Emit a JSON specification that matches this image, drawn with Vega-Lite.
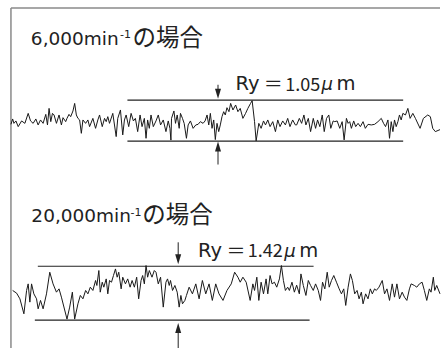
{
  "$schema": "https://vega.github.io/schema/vega-lite/v6.json",
  "width": 442,
  "height": 349,
  "autosize": {"type": "fit", "contains": "padding"},
  "padding": 0,
  "background": "white",
  "config": {"view": {"stroke": null}},
  "datasets": {
    "trace": [
      {"s":"a","x":11,"y":124.7},{"s":"a","x":12.7,"y":119.3},{"s":"a","x":14,"y":123.7},{"s":"a","x":16,"y":121.3},{"s":"a","x":18.3,"y":127},{"s":"a","x":21.7,"y":121.3},{"s":"a","x":25,"y":123.7},{"s":"a","x":28.3,"y":113.7},{"s":"a","x":30.7,"y":121.3},{"s":"a","x":33.3,"y":123.7},{"s":"a","x":36,"y":119.3},{"s":"a","x":38.3,"y":125.3},{"s":"a","x":40.7,"y":120.3},{"s":"a","x":43.3,"y":123.7},{"s":"a","x":46,"y":114.7},{"s":"a","x":47.7,"y":125.3},{"s":"a","x":49.3,"y":108.7},{"s":"a","x":51,"y":122},{"s":"a","x":52.7,"y":113.7},{"s":"a","x":54.3,"y":115.3},{"s":"a","x":56.7,"y":123.7},{"s":"a","x":59.3,"y":115.3},{"s":"a","x":61.7,"y":125.3},{"s":"a","x":63.3,"y":118},{"s":"a","x":66,"y":122},{"s":"a","x":67.3,"y":118.7},{"s":"a","x":69.3,"y":114.7},{"s":"a","x":71,"y":117},{"s":"a","x":73.3,"y":111.3},{"s":"a","x":75,"y":103.7},{"s":"a","x":76.7,"y":115.3},{"s":"a","x":78.3,"y":118.7},{"s":"a","x":80,"y":120.3},{"s":"a","x":81.7,"y":133.7},{"s":"a","x":83.3,"y":120.3},{"s":"a","x":86,"y":123.7},{"s":"a","x":88.3,"y":120.3},{"s":"a","x":90,"y":127},{"s":"a","x":93.3,"y":118.7},{"s":"a","x":96,"y":128.7},{"s":"a","x":98.3,"y":120.3},{"s":"a","x":100,"y":115.3},{"s":"a","x":102.7,"y":127},{"s":"a","x":105,"y":118.7},{"s":"a","x":106.7,"y":122},{"s":"a","x":108.3,"y":117},{"s":"a","x":110,"y":123.7},{"s":"a","x":113.3,"y":113.7},{"s":"a","x":116.7,"y":137},{"s":"a","x":118.3,"y":118.7},{"s":"a","x":121,"y":110.3},{"s":"a","x":123.3,"y":135.3},{"s":"a","x":125,"y":120.3},{"s":"a","x":126.7,"y":115.3},{"s":"a","x":129.3,"y":127},{"s":"a","x":131.7,"y":113.7},{"s":"a","x":134,"y":121.3},{"s":"a","x":136,"y":118.7},{"s":"a","x":138.3,"y":132},{"s":"a","x":140.7,"y":115.3},{"s":"a","x":142.7,"y":127},{"s":"a","x":145,"y":118.7},{"s":"a","x":146.7,"y":138.7},{"s":"a","x":148.3,"y":120.3},{"s":"a","x":150,"y":128.7},{"s":"a","x":151.7,"y":115.3},{"s":"a","x":154,"y":127},{"s":"a","x":156.7,"y":121.3},{"s":"a","x":159,"y":115.3},{"s":"a","x":161.3,"y":125.3},{"s":"a","x":164,"y":120.3},{"s":"a","x":166.7,"y":132},{"s":"a","x":169,"y":121.3},{"s":"a","x":170.7,"y":128.7},{"s":"a","x":171.7,"y":140.5},{"s":"a","x":172.3,"y":118.7},{"s":"a","x":174.7,"y":111.3},{"s":"a","x":176.3,"y":123.7},{"s":"a","x":178,"y":115.3},{"s":"a","x":180,"y":128.7},{"s":"a","x":181.3,"y":113.7},{"s":"a","x":183.3,"y":118.7},{"s":"a","x":185,"y":123.7},{"s":"a","x":187.3,"y":138.7},{"s":"a","x":189,"y":125.3},{"s":"a","x":191.3,"y":121.3},{"s":"a","x":194,"y":128.7},{"s":"a","x":196.7,"y":125.3},{"s":"a","x":199,"y":124.7},{"s":"a","x":201.3,"y":122},{"s":"a","x":204,"y":123.7},{"s":"a","x":206,"y":121.3},{"s":"a","x":208,"y":115.3},{"s":"a","x":209.7,"y":125.3},{"s":"a","x":211.3,"y":113.7},{"s":"a","x":213,"y":128.7},{"s":"a","x":214.7,"y":120.3},{"s":"a","x":216.3,"y":140},{"s":"a","x":218,"y":123.7},{"s":"a","x":219.7,"y":132},{"s":"a","x":221.3,"y":125.3},{"s":"a","x":223,"y":117},{"s":"a","x":224.7,"y":112},{"s":"a","x":226.3,"y":115.3},{"s":"a","x":228,"y":108},{"s":"a","x":230,"y":112},{"s":"a","x":231.7,"y":103.7},{"s":"a","x":234,"y":110.3},{"s":"a","x":236.7,"y":105.3},{"s":"a","x":239,"y":112},{"s":"a","x":241.3,"y":108.7},{"s":"a","x":244,"y":118.7},{"s":"a","x":246.7,"y":113.7},{"s":"a","x":249,"y":108.7},{"s":"a","x":251.7,"y":103.7},{"s":"a","x":253.3,"y":101},{"s":"a","x":255.7,"y":122},{"s":"a","x":257.3,"y":141.3},{"s":"a","x":260,"y":123.7},{"s":"a","x":262.3,"y":128.7},{"s":"a","x":264.7,"y":121.3},{"s":"a","x":266.7,"y":125.3},{"s":"a","x":269,"y":120.3},{"s":"a","x":271.3,"y":127},{"s":"a","x":274,"y":122},{"s":"a","x":276.7,"y":132},{"s":"a","x":279,"y":120.3},{"s":"a","x":281.3,"y":127},{"s":"a","x":284,"y":121.3},{"s":"a","x":286.7,"y":125.3},{"s":"a","x":289,"y":118.7},{"s":"a","x":291.3,"y":127},{"s":"a","x":294,"y":120.3},{"s":"a","x":296.7,"y":125.3},{"s":"a","x":298,"y":125.3},{"s":"a","x":300.7,"y":118.7},{"s":"a","x":303,"y":123.7},{"s":"a","x":305.3,"y":115.3},{"s":"a","x":307.3,"y":125.3},{"s":"a","x":309.7,"y":118.7},{"s":"a","x":312,"y":132},{"s":"a","x":314.7,"y":118.7},{"s":"a","x":317,"y":128.7},{"s":"a","x":319,"y":120.3},{"s":"a","x":321.3,"y":127},{"s":"a","x":323.7,"y":115.3},{"s":"a","x":325.7,"y":132},{"s":"a","x":328,"y":118.7},{"s":"a","x":330.3,"y":115.3},{"s":"a","x":332.3,"y":128.7},{"s":"a","x":334.7,"y":121.3},{"s":"a","x":336.3,"y":122},{"s":"a","x":338.7,"y":121.3},{"s":"a","x":341.3,"y":128.7},{"s":"a","x":343.7,"y":122},{"s":"a","x":345.7,"y":140.3},{"s":"a","x":348,"y":118.7},{"s":"a","x":349.7,"y":123.7},{"s":"a","x":351.3,"y":122},{"s":"a","x":353,"y":128.7},{"s":"a","x":355.3,"y":121.3},{"s":"a","x":357.3,"y":127},{"s":"a","x":359.7,"y":123.7},{"s":"a","x":362,"y":127},{"s":"a","x":364.7,"y":122},{"s":"a","x":367,"y":128.7},{"s":"a","x":369.7,"y":124.7},{"s":"a","x":373,"y":125.3},{"s":"a","x":376.3,"y":124.7},{"s":"a","x":379.7,"y":122},{"s":"a","x":383,"y":118.7},{"s":"a","x":385.3,"y":123.7},{"s":"a","x":387.3,"y":127},{"s":"a","x":389.7,"y":120.3},{"s":"a","x":391.3,"y":138.7},{"s":"a","x":393,"y":122},{"s":"a","x":394.7,"y":132},{"s":"a","x":396.3,"y":120.3},{"s":"a","x":398,"y":127},{"s":"a","x":399.7,"y":122},{"s":"a","x":401.3,"y":115.3},{"s":"a","x":403,"y":120.3},{"s":"a","x":404.7,"y":113.7},{"s":"a","x":407.3,"y":115.3},{"s":"a","x":409.7,"y":108.7},{"s":"a","x":412,"y":118.7},{"s":"a","x":414.7,"y":113.7},{"s":"a","x":417.3,"y":118.7},{"s":"a","x":422,"y":128.7},{"s":"a","x":425.3,"y":118.7},{"s":"a","x":429.7,"y":115.3},{"s":"a","x":432.3,"y":117},{"s":"a","x":434.7,"y":128.7},{"s":"a","x":437.3,"y":132},{"s":"a","x":442,"y":130},
      {"s":"b","x":12.7,"y":291.3},{"s":"b","x":16.7,"y":294},{"s":"b","x":20,"y":299.7},{"s":"b","x":24,"y":314.7},{"s":"b","x":26.7,"y":291.3},{"s":"b","x":28.3,"y":284.7},{"s":"b","x":30,"y":303},{"s":"b","x":31.7,"y":284.7},{"s":"b","x":34,"y":294.7},{"s":"b","x":36.7,"y":299.7},{"s":"b","x":38.3,"y":309.7},{"s":"b","x":40.7,"y":301.3},{"s":"b","x":43.3,"y":309.7},{"s":"b","x":46.7,"y":294.7},{"s":"b","x":50,"y":273},{"s":"b","x":53.3,"y":284.7},{"s":"b","x":56.7,"y":293},{"s":"b","x":59.3,"y":289.7},{"s":"b","x":61.7,"y":298},{"s":"b","x":67.3,"y":320},{"s":"b","x":70,"y":308},{"s":"b","x":72.7,"y":293},{"s":"b","x":75,"y":320},{"s":"b","x":78.3,"y":304.7},{"s":"b","x":80.7,"y":296.3},{"s":"b","x":83.3,"y":299.7},{"s":"b","x":86,"y":291.3},{"s":"b","x":88.3,"y":294.7},{"s":"b","x":90.7,"y":288},{"s":"b","x":93.3,"y":291.3},{"s":"b","x":96,"y":281.3},{"s":"b","x":97.3,"y":286.3},{"s":"b","x":99.3,"y":271.3},{"s":"b","x":100.7,"y":293},{"s":"b","x":102.7,"y":283},{"s":"b","x":104.3,"y":288},{"s":"b","x":106.7,"y":279.7},{"s":"b","x":108.3,"y":294.7},{"s":"b","x":110,"y":281.3},{"s":"b","x":112,"y":283},{"s":"b","x":114,"y":276.3},{"s":"b","x":116,"y":269.7},{"s":"b","x":117.7,"y":278},{"s":"b","x":119.3,"y":273},{"s":"b","x":121.7,"y":289.7},{"s":"b","x":123.3,"y":278},{"s":"b","x":126,"y":284.7},{"s":"b","x":128.3,"y":279.7},{"s":"b","x":130.7,"y":288},{"s":"b","x":132.7,"y":281.3},{"s":"b","x":135,"y":288},{"s":"b","x":137.3,"y":278},{"s":"b","x":139.3,"y":299.7},{"s":"b","x":141.7,"y":281.3},{"s":"b","x":143.3,"y":276.3},{"s":"b","x":145,"y":284.7},{"s":"b","x":146.7,"y":266.3},{"s":"b","x":148.3,"y":278},{"s":"b","x":150,"y":271.3},{"s":"b","x":152.7,"y":278},{"s":"b","x":155,"y":271.3},{"s":"b","x":156.7,"y":273},{"s":"b","x":159,"y":284.7},{"s":"b","x":161.3,"y":278},{"s":"b","x":164,"y":308},{"s":"b","x":166.7,"y":283},{"s":"b","x":168.3,"y":279.7},{"s":"b","x":170,"y":286.3},{"s":"b","x":171.3,"y":281.3},{"s":"b","x":173.3,"y":291.3},{"s":"b","x":175.7,"y":286.3},{"s":"b","x":178,"y":293},{"s":"b","x":180,"y":308},{"s":"b","x":181.7,"y":296.3},{"s":"b","x":183.3,"y":304.7},{"s":"b","x":185.7,"y":301.3},{"s":"b","x":187.3,"y":296.3},{"s":"b","x":190,"y":288},{"s":"b","x":193.3,"y":294.7},{"s":"b","x":196.7,"y":284.7},{"s":"b","x":200,"y":299.7},{"s":"b","x":203.3,"y":281.3},{"s":"b","x":206.7,"y":294.7},{"s":"b","x":210,"y":284.7},{"s":"b","x":213.3,"y":301.3},{"s":"b","x":216.7,"y":284.7},{"s":"b","x":220,"y":294.7},{"s":"b","x":224,"y":301.3},{"s":"b","x":228,"y":291.3},{"s":"b","x":232.3,"y":284.7},{"s":"b","x":235.7,"y":273},{"s":"b","x":239,"y":278},{"s":"b","x":241.3,"y":283},{"s":"b","x":244,"y":278},{"s":"b","x":247.3,"y":283},{"s":"b","x":251.3,"y":301.3},{"s":"b","x":254,"y":284.7},{"s":"b","x":255.7,"y":291.3},{"s":"b","x":258,"y":278},{"s":"b","x":260,"y":301.3},{"s":"b","x":262.3,"y":283},{"s":"b","x":264.7,"y":294.7},{"s":"b","x":267.3,"y":279.7},{"s":"b","x":269,"y":294.7},{"s":"b","x":271.3,"y":276.3},{"s":"b","x":273.3,"y":284.7},{"s":"b","x":275.7,"y":283},{"s":"b","x":278,"y":288},{"s":"b","x":280.7,"y":279.7},{"s":"b","x":282.7,"y":266.3},{"s":"b","x":284.7,"y":281.3},{"s":"b","x":286.7,"y":291.3},{"s":"b","x":289,"y":288},{"s":"b","x":290.7,"y":291.3},{"s":"b","x":293.3,"y":283},{"s":"b","x":295.7,"y":293},{"s":"b","x":298,"y":286},{"s":"b","x":300.7,"y":294.7},{"s":"b","x":302.3,"y":274.7},{"s":"b","x":304.7,"y":286.3},{"s":"b","x":307.3,"y":296.3},{"s":"b","x":309.7,"y":281.3},{"s":"b","x":312,"y":286.3},{"s":"b","x":314.7,"y":291.3},{"s":"b","x":317,"y":284.7},{"s":"b","x":319.7,"y":291.3},{"s":"b","x":322,"y":301.3},{"s":"b","x":324,"y":283},{"s":"b","x":326.3,"y":289.7},{"s":"b","x":328.7,"y":273},{"s":"b","x":330.7,"y":288},{"s":"b","x":333,"y":281.3},{"s":"b","x":335.3,"y":276.3},{"s":"b","x":338,"y":283},{"s":"b","x":340.7,"y":289.7},{"s":"b","x":343,"y":294.7},{"s":"b","x":345.3,"y":289.7},{"s":"b","x":347.3,"y":306.3},{"s":"b","x":349.7,"y":288},{"s":"b","x":352,"y":274.7},{"s":"b","x":354,"y":281.3},{"s":"b","x":356.3,"y":294.7},{"s":"b","x":358.7,"y":291.3},{"s":"b","x":360.7,"y":299.7},{"s":"b","x":363,"y":293},{"s":"b","x":364.7,"y":304.7},{"s":"b","x":367.3,"y":294.7},{"s":"b","x":369.7,"y":299.7},{"s":"b","x":372,"y":289.7},{"s":"b","x":374,"y":294.7},{"s":"b","x":376.3,"y":289.7},{"s":"b","x":378,"y":291.3},{"s":"b","x":380.7,"y":288},{"s":"b","x":384,"y":281.3},{"s":"b","x":386.3,"y":294.7},{"s":"b","x":388.7,"y":289.7},{"s":"b","x":391.3,"y":301.3},{"s":"b","x":394,"y":284.7},{"s":"b","x":396.3,"y":298},{"s":"b","x":398.7,"y":284.7},{"s":"b","x":401.3,"y":299.7},{"s":"b","x":404,"y":293},{"s":"b","x":406.3,"y":298},{"s":"b","x":408.7,"y":301.3},{"s":"b","x":411.3,"y":289.7},{"s":"b","x":413,"y":284.7},{"s":"b","x":416.3,"y":286.3},{"s":"b","x":418.7,"y":288},{"s":"b","x":421.3,"y":284.7},{"s":"b","x":424,"y":283},{"s":"b","x":426.3,"y":291.3},{"s":"b","x":428.7,"y":301.3},{"s":"b","x":431.3,"y":289.7},{"s":"b","x":433,"y":293},{"s":"b","x":435.3,"y":278},{"s":"b","x":436.7,"y":291.3},{"s":"b","x":438.7,"y":286.3},{"s":"b","x":442,"y":294.7}
    ],
    "hlines": [
      {"x":128,"x2":405,"y":100.5},
      {"x":128,"x2":405,"y":141.5},
      {"x":38,"x2":315,"y":267},
      {"x":35,"x2":311,"y":321}
    ],
    "frameV": [{"x":11,"y":8,"y2":349}],
    "frameH": [{"x":11,"x2":442,"y":8}],
    "shafts": [
      {"x":219,"y":85,"y2":91},
      {"x":219,"y":150,"y2":165},
      {"x":179,"y":243,"y2":256},
      {"x":179,"y":332,"y2":349}
    ],
    "headsDown": [{"x":219,"y":94},{"x":179,"y":260}],
    "headsUp": [{"x":219,"y":147},{"x":179,"y":329}],
    "texts": [
      {"k":"lat","label":"6,000min","x":31,"y":45},
      {"k":"sup","label":"-1","x":120.5,"y":38.5},
      {"k":"cjk","label":"の場合","x":133,"y":45},
      {"k":"lat","label":"20,000min","x":31.5,"y":222.3},
      {"k":"sup","label":"-1","x":131,"y":216.5},
      {"k":"cjk","label":"の場合","x":143,"y":222.3},
      {"k":"ry","label":"Ry","x":236.5,"y":90.7},
      {"k":"eq","label":"＝","x":265,"y":90.7},
      {"k":"num","label":"1.05","x":286.5,"y":90.7},
      {"k":"mu","label":"μ","x":323,"y":90.7},
      {"k":"ry","label":"m","x":338,"y":90.7},
      {"k":"ry","label":"Ry","x":199,"y":257.3},
      {"k":"eq","label":"＝","x":227.5,"y":257.3},
      {"k":"num","label":"1.42","x":249,"y":257.3},
      {"k":"mu","label":"μ","x":285.5,"y":257.3},
      {"k":"ry","label":"m","x":300.5,"y":257.3}
    ]
  },
  "layer": [
    {
      "data": {"name": "frameV"},
      "mark": {"type": "rule", "color": "#8a8a8a", "strokeWidth": 1.5},
      "encoding": {
        "x": {"field": "x", "type": "quantitative", "scale": {"domain": [0, 442], "nice": false, "zero": false}, "axis": null},
        "y": {"field": "y", "type": "quantitative", "scale": {"domain": [0, 349], "nice": false, "zero": false, "reverse": true}, "axis": null},
        "y2": {"field": "y2"}
      }
    },
    {
      "data": {"name": "frameH"},
      "mark": {"type": "rule", "color": "#8a8a8a", "strokeWidth": 1.5},
      "encoding": {
        "x": {"field": "x", "type": "quantitative"},
        "x2": {"field": "x2"},
        "y": {"field": "y", "type": "quantitative"}
      }
    },
    {
      "data": {"name": "hlines"},
      "mark": {"type": "rule", "color": "#222222", "strokeWidth": 1.2},
      "encoding": {
        "x": {"field": "x", "type": "quantitative"},
        "x2": {"field": "x2"},
        "y": {"field": "y", "type": "quantitative"}
      }
    },
    {
      "data": {"name": "trace"},
      "mark": {"type": "line", "color": "#1a1a1a", "strokeWidth": 1, "strokeJoin": "miter"},
      "encoding": {
        "x": {"field": "x", "type": "quantitative"},
        "y": {"field": "y", "type": "quantitative"},
        "detail": {"field": "s"}
      }
    },
    {
      "data": {"name": "shafts"},
      "mark": {"type": "rule", "color": "#222222", "strokeWidth": 1},
      "encoding": {
        "x": {"field": "x", "type": "quantitative"},
        "y": {"field": "y", "type": "quantitative"},
        "y2": {"field": "y2"}
      }
    },
    {
      "data": {"name": "headsDown"},
      "mark": {"type": "point", "shape": "M-0.6,-1L0.6,-1L0,1Z", "size": 100, "filled": true, "color": "#222222", "opacity": 1},
      "encoding": {
        "x": {"field": "x", "type": "quantitative"},
        "y": {"field": "y", "type": "quantitative"}
      }
    },
    {
      "data": {"name": "headsUp"},
      "mark": {"type": "point", "shape": "M-0.6,1L0.6,1L0,-1Z", "size": 100, "filled": true, "color": "#222222", "opacity": 1},
      "encoding": {
        "x": {"field": "x", "type": "quantitative"},
        "y": {"field": "y", "type": "quantitative"}
      }
    },
    {
      "data": {"name": "texts"},
      "transform": [{"filter": "datum.k === 'lat'"}],
      "mark": {"type": "text", "align": "left", "baseline": "alphabetic", "font": "DejaVu Sans", "fontSize": 18.5, "color": "#222222"},
      "encoding": {
        "x": {"field": "x", "type": "quantitative"},
        "y": {"field": "y", "type": "quantitative"},
        "text": {"field": "label"}
      }
    },
    {
      "data": {"name": "texts"},
      "transform": [{"filter": "datum.k === 'cjk'"}],
      "mark": {"type": "text", "align": "left", "baseline": "alphabetic", "font": "Noto Sans CJK JP", "fontSize": 23.5, "color": "#222222", "dy": 1.5},
      "encoding": {
        "x": {"field": "x", "type": "quantitative"},
        "y": {"field": "y", "type": "quantitative"},
        "text": {"field": "label"}
      }
    },
    {
      "data": {"name": "texts"},
      "transform": [{"filter": "datum.k === 'sup'"}],
      "mark": {"type": "text", "align": "left", "baseline": "alphabetic", "font": "DejaVu Sans", "fontSize": 11, "color": "#222222"},
      "encoding": {
        "x": {"field": "x", "type": "quantitative"},
        "y": {"field": "y", "type": "quantitative"},
        "text": {"field": "label"}
      }
    },
    {
      "data": {"name": "texts"},
      "transform": [{"filter": "datum.k === 'ry'"}],
      "mark": {"type": "text", "align": "left", "baseline": "alphabetic", "font": "DejaVu Sans", "fontSize": 19.5, "color": "#222222"},
      "encoding": {
        "x": {"field": "x", "type": "quantitative"},
        "y": {"field": "y", "type": "quantitative"},
        "text": {"field": "label"}
      }
    },
    {
      "data": {"name": "texts"},
      "transform": [{"filter": "datum.k === 'num'"}],
      "mark": {"type": "text", "align": "left", "baseline": "alphabetic", "font": "Noto Sans CJK JP", "fontSize": 18, "color": "#222222", "dy": 0.5},
      "encoding": {
        "x": {"field": "x", "type": "quantitative"},
        "y": {"field": "y", "type": "quantitative"},
        "text": {"field": "label"}
      }
    },
    {
      "data": {"name": "texts"},
      "transform": [{"filter": "datum.k === 'eq'"}],
      "mark": {"type": "text", "align": "left", "baseline": "alphabetic", "font": "Noto Sans CJK JP", "fontSize": 19, "color": "#222222", "dy": 1},
      "encoding": {
        "x": {"field": "x", "type": "quantitative"},
        "y": {"field": "y", "type": "quantitative"},
        "text": {"field": "label"}
      }
    },
    {
      "data": {"name": "texts"},
      "transform": [{"filter": "datum.k === 'mu'"}],
      "mark": {"type": "text", "align": "left", "baseline": "alphabetic", "font": "DejaVu Sans", "fontStyle": "italic", "fontSize": 18, "color": "#222222"},
      "encoding": {
        "x": {"field": "x", "type": "quantitative"},
        "y": {"field": "y", "type": "quantitative"},
        "text": {"field": "label"}
      }
    }
  ]
}
